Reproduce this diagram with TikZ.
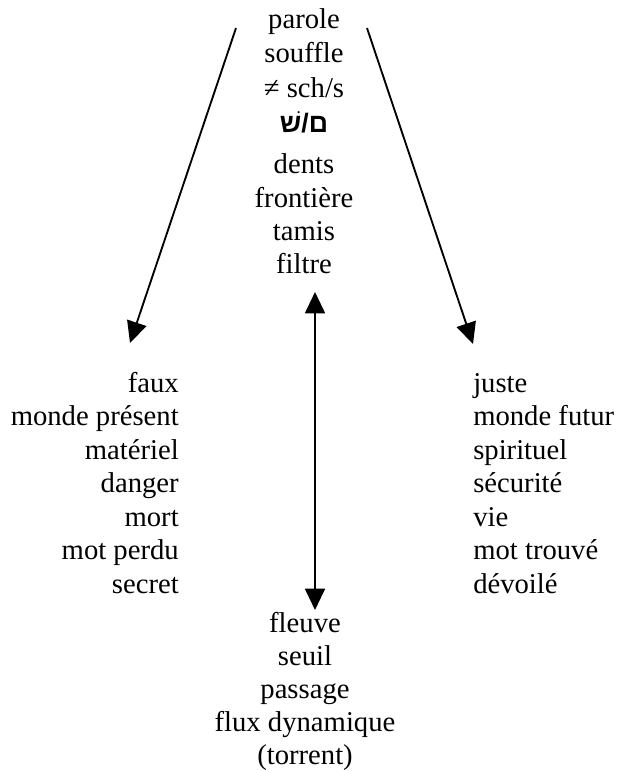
\documentclass[tikz,border=0pt]{standalone}
\usepackage{fontspec}
\setmainfont{Liberation Serif}
\newfontfamily\hebfont[Script=Hebrew]{Liberation Sans}
\TeXXeTstate=1
\usetikzlibrary{arrows.meta}

\begin{document}
\begin{tikzpicture}[x=0.75pt,y=-0.75pt,
  word/.style={inner sep=0pt,font=\fontsize{21.5}{25}\selectfont},
  mid/.style={word,anchor=base},
  lft/.style={word,anchor=base east},
  rgt/.style={word,anchor=base west},
  link/.style={line width=1.4pt,-{Triangle[length=16pt,width=15pt]}},
  both/.style={line width=1.4pt,{Triangle[length=16pt,width=15pt]}-{Triangle[length=16pt,width=15pt]}}]
\useasboundingbox (0,0) rectangle (618,771);

% central column: the letter and its qualities
\node[mid] (t1) at (304,28) {parole};
\node[mid] (t2) at (304,62) {souffle};
\node[mid] (t3) at (304,97) {≠ sch/s};
\node[mid] (t4) at (304,132) {\hebfont\bfseries\fontsize{20}{24}\selectfont\beginR ם/שׁ\endR};
\node[mid] (t5) at (304,173) {dents};
\node[mid] (t6) at (304,207) {frontière};
\node[mid] (t7) at (304,240) {tamis};
\node[mid] (t8) at (304,273) {filtre};

% left column
\node[lft] (l1) at (179,392) {faux};
\node[lft] (l2) at (179,425) {monde présent};
\node[lft] (l3) at (179,459) {matériel};
\node[lft] (l4) at (179,492) {danger};
\node[lft] (l5) at (179,526) {mort};
\node[lft] (l6) at (179,559) {mot perdu};
\node[lft] (l7) at (179,593) {secret};

% right column
\node[rgt] (r1) at (473,392) {juste};
\node[rgt] (r2) at (473,425) {monde futur};
\node[rgt] (r3) at (473,459) {spirituel};
\node[rgt] (r4) at (473,492) {sécurité};
\node[rgt] (r5) at (473,526) {vie};
\node[rgt] (r6) at (473,559) {mot trouvé};
\node[rgt] (r7) at (473,593) {dévoilé};

% bottom column
\node[mid] (b1) at (305,632) {fleuve};
\node[mid] (b2) at (305,665) {seuil};
\node[mid] (b3) at (305,698) {passage};
\node[mid] (b4) at (305,731) {flux dynamique};
\node[mid] (b5) at (305,764) {(torrent)};

% connectors
\coordinate (ls) at (236,28);
\coordinate (le) at (130,343);
\coordinate (rs) at (367,28);
\coordinate (re) at (473,344);
\coordinate (vs) at (315,292);
\coordinate (ve) at (315,610);
\draw[link] (ls) -- (le);
\draw[link] (rs) -- (re);
\draw[both] (vs) -- (ve);
\end{tikzpicture}
\end{document}
